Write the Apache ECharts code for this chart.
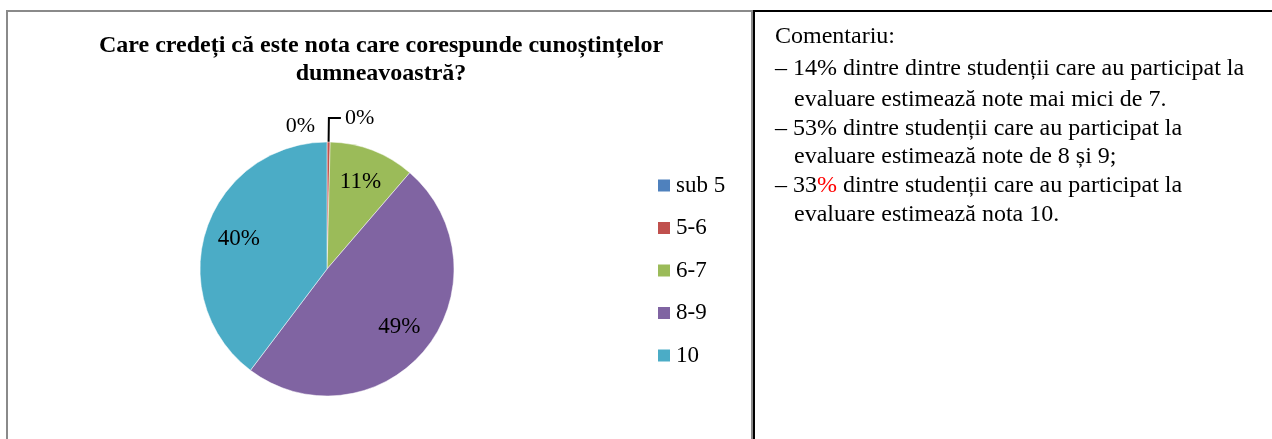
<!DOCTYPE html>
<html><head><meta charset="utf-8">
<script src="https://cdn.jsdelivr.net/npm/echarts@6/dist/echarts.min.js"></script>
<style>html,body{margin:0;padding:0;background:#fff}#c{width:1272px;height:439px}</style>
</head><body><div id="c"></div>
<script>
const categories = ['sub 5', '5-6', '6-7', '8-9', '10'];
const values = [0, 0.4, 10.9, 49, 39.7];
const colors = ['#4F81BD', '#C0504D', '#9BBB59', '#8064A2', '#4BACC6'];
const titleLines = ['Care credeți că este nota care corespunde cunoștințelor', 'dumneavoastră?'];
const commentLines = [
  'Comentariu:',
  '– 14% dintre dintre studenții care au participat la',
  'evaluare estimează note mai mici de 7.',
  '– 53% dintre studenții care au participat la',
  'evaluare estimează note de 8 și 9;',
  '– 33{r|%} dintre studenții care au participat la',
  'evaluare estimează nota 10.'
];
const commentIndent = [0, 0, 1, 0, 1, 0, 1];
const commentBaselines = [45, 77, 108, 137, 165, 194, 223];

const FONT = '"Liberation Serif", "Times New Roman", serif';
const chart = echarts.init(document.getElementById('c'), null, {renderer: 'canvas'});

const data = categories.map((n, i) => ({name: n, value: values[i], itemStyle: {color: colors[i]}}));
const pctFmt = p => Math.round(p.percent) + '%';

const graphics = [
  {type: 'rect', shape: {x: 7, y: 11, width: 745, height: 440}, style: {fill: 'none', stroke: '#8a8a8a', lineWidth: 2}, silent: true},
  {type: 'line', shape: {x1: 754, y1: 10, x2: 754, y2: 439}, style: {stroke: '#000', lineWidth: 2}, silent: true},
  {type: 'line', shape: {x1: 753, y1: 11, x2: 1272, y2: 11}, style: {stroke: '#000', lineWidth: 2}, silent: true}
];
titleLines.forEach((t, i) => graphics.push({
  type: 'text', x: 381, y: 54 + i * 28 - 8,
  style: {text: t, font: 'bold 24px ' + FONT, fill: '#000', align: 'center', verticalAlign: 'middle'}, silent: true
}));
commentLines.forEach((t, i) => graphics.push({
  type: 'text', x: commentIndent[i] ? 794 : 775, y: commentBaselines[i] - 8,
  style: {text: t, font: '24px ' + FONT, fill: '#000', align: 'left', verticalAlign: 'middle',
    rich: {r: {fill: '#FF0000', font: '24px ' + FONT}}}, silent: true
}));

chart.setOption({
  animation: false,
  color: colors,
  legend: {
    orient: 'vertical', left: 658, top: 174, padding: 0, itemWidth: 12, itemHeight: 12, itemGap: 19.5,
    icon: 'rect', data: categories,
    itemStyle: {borderWidth: 0},
    textStyle: {fontFamily: FONT, fontSize: 23, lineHeight: 23, color: '#000', padding: [0, 0, 0, 1]}
  },
  graphic: graphics,
  series: [
    {
      type: 'pie', center: [327, 269], radius: [0, 127], startAngle: 90, clockwise: true,
      avoidLabelOverlap: false, silent: true,
      itemStyle: {borderColor: '#fff', borderWidth: 0.5},
      data: data.map((d, i) => Object.assign({}, d, {
        label: {show: values[i] < 1},
        labelLine: {show: i === 1}
      })),
      label: {position: 'outside', formatter: pctFmt, fontFamily: FONT, fontSize: 22, color: '#000', distanceToLabelLine: 4},
      labelLine: {length: 24, length2: 12, lineStyle: {color: '#000', width: 2}},
      labelLayout: function (p) {
        if (p.dataIndex === 0) return {dx: 4, dy: 8};
        return {};
      }
    },
    {
      type: 'pie', center: [327, 269], radius: [0, 180], startAngle: 90, clockwise: true,
      silent: true, avoidLabelOverlap: false,
      itemStyle: {color: 'rgba(0,0,0,0)', borderWidth: 0},
      data: data.map((d, i) => ({name: d.name, value: d.value, itemStyle: {color: 'rgba(0,0,0,0)'}, label: {show: values[i] >= 1}})),
      label: {position: 'inside', formatter: pctFmt, fontFamily: FONT, fontSize: 23, color: '#000'},
      labelLine: {show: false}
    }
  ]
});
</script></body></html>
